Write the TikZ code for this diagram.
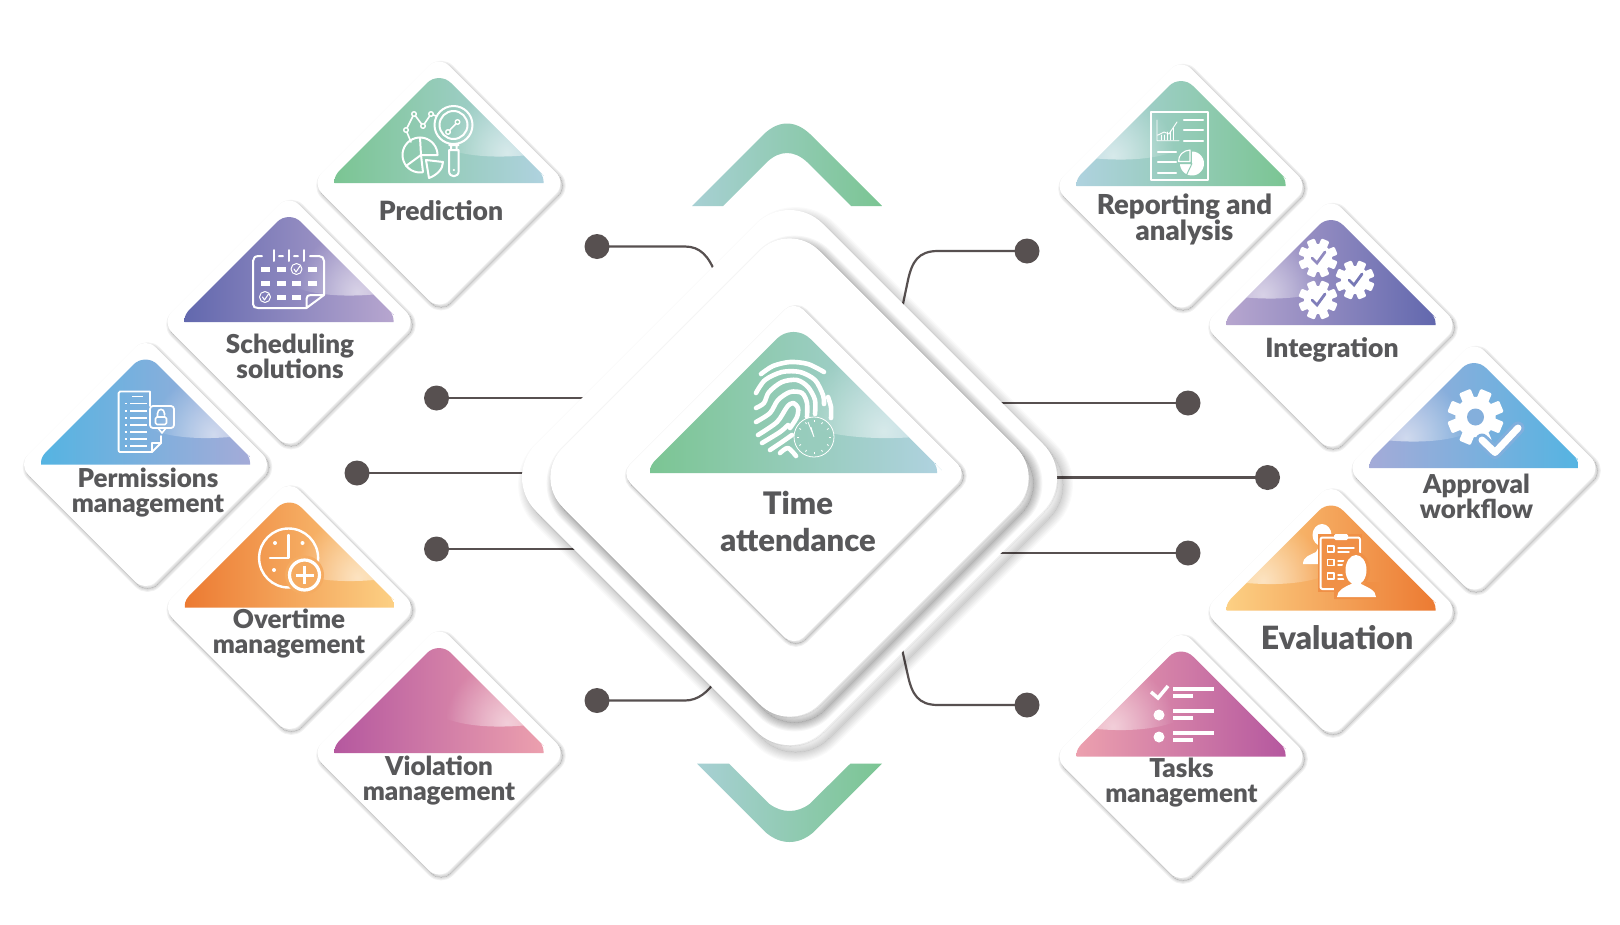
\documentclass[tikz,border=0pt]{standalone}
\usepackage{fontspec}
\usetikzlibrary{fadings,calc}
\setmainfont{Lato}
\newfontfamily\labfont{Lato Black}
\definecolor{grA}{HTML}{7BC593}\definecolor{grB}{HTML}{AFD2DF}
\definecolor{puA}{HTML}{6268AE}\definecolor{puB}{HTML}{B7A6CF}
\definecolor{blA}{HTML}{55B4E2}\definecolor{blB}{HTML}{A4ABD8}
\definecolor{orA}{HTML}{EC7A32}\definecolor{orB}{HTML}{FCD084}
\definecolor{piA}{HTML}{B5589F}\definecolor{piB}{HTML}{ECA0AE}
\definecolor{ink}{HTML}{58585A}\definecolor{dotc}{HTML}{575050}
\tikzfading[name=hlfade,inner color=transparent!45,outer color=transparent!100]
\tikzset{
 x=1pt,y=-1pt,
 cardlabel/.style={font=\labfont\fontsize{26}{25}\selectfont,text=ink,align=center,inner sep=0pt},
 dotnode/.style={circle,fill=dotc,draw=none,minimum size=25pt,inner sep=0pt},
 wire/.style={draw=dotc,line width=2.2pt},
 ic/.style={draw=white,line width=2pt,line cap=round,line join=round},
 icf/.style={fill=white,draw=none},
 ridge/.style={draw=white,line width=4.6pt,line cap=round,line join=round},
}
\newcommand{\dmd}[2]{(-#1/2,-#1/2) [rounded corners=#2] -- (0,-#1) -- (#1,0) -- (0,#1) -- (-#1,0) -- cycle}
% soft shadow: half-diagonal, rounding, x/y offset, widest blur, opacity
\newcommand{\softshadow}[6]{%
 \foreach \w in {0,...,#5}{%
  \draw[black,opacity=#6,line width=\w*2.2pt,line join=round,xshift=#3pt,yshift=-#4pt] \dmd{#1}{#2};}}
\newcommand{\tri}[3]{% half base, sharp height, apex rounding
 (-#1,0) -- (-#1,-2) .. controls (-#1,-6) and (-#1+2,-#2+#1-2) .. (-#1+6,-#2+#1-6) -- (-#1+12,-#2+#1-12) [rounded corners=#3] -- (0,-#2) -- (#1-12,-#2+#1-12) [sharp corners] -- (#1-6,-#2+#1-6) .. controls (#1-2,-#2+#1-2) and (#1,-6) .. (#1,-2) -- (#1,0) -- cycle}
% plate: cx cy colourL colourR dir
\newcommand{\plate}[5]{%
 \begin{scope}[shift={(#1,#2)}]
  \softshadow{127.3}{14}{2}{2.6}{3}{0.055}
  \fill[white] \dmd{127.3}{14};
  \shade[left color=#3,right color=#4] \tri{104.5}{112}{17};
  \begin{scope}
   \clip \tri{104.5}{112}{17};
   \clip (#5*8,-34) .. controls (#5*30,-26) and (#5*60,-25) .. (#5*90,-28) -- (#5*110,-28) -- (#5*110,-115) -- (#5*8,-115) -- cycle;
   \fill[white,path fading=hlfade] (#5*68,-30) circle (62);
  \end{scope}
 \end{scope}}
\newcommand{\gearicon}[4]{% cx cy r inner drawing
 \begin{scope}[shift={(#1,#2)}]
  \foreach \a in {0,45,...,315}{\fill[white,rotate=\a+22.5,rounded corners=1.2pt] (-#3*.22,-#3) rectangle (#3*.22,0);}
  \fill[white] (0,0) circle (#3*.72);
  #4
 \end{scope}}
\begin{document}
\begin{tikzpicture}
\useasboundingbox (0,0) rectangle (1620,924);
\fill[white] (0,0) rectangle (1620,924);
% connectors
\node[dotnode] (d1) at (597,246.5) {};
\node[dotnode] (d2) at (436.5,398) {};
\node[dotnode] (d3) at (357,473) {};
\node[dotnode] (d4) at (436.5,549) {};
\node[dotnode] (d5) at (597,700.5) {};
\node[dotnode] (d6) at (1027,251) {};
\node[dotnode] (d7) at (1188,403) {};
\node[dotnode] (d8) at (1267.5,477.5) {};
\node[dotnode] (d9) at (1188,553) {};
\node[dotnode] (d10) at (1027,705) {};
\coordinate (e1) at (716,275);\coordinate (e2) at (600,398);\coordinate (e3) at (540,473);\coordinate (e4) at (600,549);\coordinate (e5) at (716,680);
\coordinate (e6) at (900,318);\coordinate (e7) at (990,403);\coordinate (e8) at (1040,477.5);\coordinate (e9) at (990,553);\coordinate (e10) at (900,640);
\draw[wire] (d1.center) -- (685,246.5) .. controls (700,246.5) and (709,256) .. (e1);
\draw[wire] (d2.center) -- (e2);
\draw[wire] (d3.center) -- (e3);
\draw[wire] (d4.center) -- (e4);
\draw[wire] (d5.center) -- (685,700.5) .. controls (698,700.5) and (708,692) .. (e5);
\draw[wire] (d6.center) -- (938,251) .. controls (918,251) and (912,262) .. (908,280) -- (e6);
\draw[wire] (d7.center) -- (e7);
\draw[wire] (d8.center) -- (e8);
\draw[wire] (d9.center) -- (e9);
\draw[wire] (d10.center) -- (938,705) .. controls (918,705) and (912,694) .. (908,676) -- (e10);
% chevrons
\shade[left color=grB!85!grA,right color=grA] (692,206) -- (764,134) .. controls (779,120) and (795,120) .. (810,134) -- (882,206) -- (851,206) -- (807,162) .. controls (794,150) and (780,150) .. (767,162) -- (723,206) -- cycle;
\shade[left color=grB!85!grA,right color=grA] (697,763.5) -- (766.5,833) .. controls (781,845) and (798,845) .. (812.5,833) -- (882,763.5) -- (850.5,763.5) -- (809.5,804) .. controls (797,813.3) and (782,813.3) .. (769.5,804) -- (729,763.5) -- cycle;
% central plates
\begin{scope}[shift={(789.5,477.5)}]
 \softshadow{287}{47}{6}{7}{9}{0.021}
 \softshadow{287}{47}{1}{1}{1}{0.02}
 \fill[white] \dmd{287}{47};
 \softshadow{256.5}{42}{5}{6}{8}{0.034}
 \softshadow{256.5}{42}{1}{1}{1}{0.02}
 \fill[white] \dmd{256.5}{42};
\end{scope}
\begin{scope}[shift={(794,473.5)}]
 \softshadow{173}{13}{1.8}{2.4}{3}{0.06}
 \fill[white] \dmd{173}{13};
\end{scope}
\begin{scope}[shift={(793.5,473)}]
 \shade[left color=grA,right color=grB] \tri{143.5}{151}{24};
 \begin{scope}
  \clip \tri{143.5}{151}{24};
  \clip (8,-48) .. controls (40,-36) and (80,-33) .. (122,-36) -- (150,-36) -- (150,-155) -- (8,-155) -- cycle;
  \fill[white,path fading=hlfade] (90,-42) circle (85);
 \end{scope}
\end{scope}
% fingerprint
\draw[ridge] plot[smooth] coordinates {(761,374) (773,366) (790,362) (808,364) (824,372)};
\draw[ridge] plot[smooth] coordinates {(756,393) (765,380) (782,372) (800,372) (815,380) (823,395) (824,404)};
\draw[ridge] plot[smooth] coordinates {(756,408) (764,403) (769,392) (782,382) (797,380) (808,387) (815,400) (815,414)};
\draw[ridge] plot[smooth] coordinates {(756,422) (770,413) (778,400) (790,392) (802,393) (807,403) (807,417)};
\draw[ridge] plot[smooth] coordinates {(758,435) (777,422) (787,407) (793,403) (798,408) (797,417) (790,428)};
\draw[ridge] plot[smooth] coordinates {(762,443) (780,432) (788,425)};
\draw[ridge] plot[smooth] coordinates {(770,450) (782,442) (792,435)};
\draw[ridge] plot[smooth] coordinates {(780,453) (788,448) (796,456)};
\draw[ridge] plot[smooth] coordinates {(828,397) (831,407) (831,418)};
\fill[fill=grA!45!grB,opacity=.9] (814,437) circle (20);
\draw[white,line width=.8pt] (814,437) circle (20);
\foreach \a in {0,30,...,330}{\draw[white,line width=.8pt] ($(814,437)+(\a:15)$) -- ($(814,437)+(\a:17)$);}
\draw[white,line width=.8pt] (814,437) -- (808,422) (814,437) -- (811,427);
% small plates
\plate{439}{183}{grA}{grB}{1}
\plate{289}{322}{puA}{puB}{1}
\plate{145.5}{464.5}{blA}{blB}{1}
\plate{289.3}{607.5}{orA}{orB}{1}
\plate{439}{753}{piA}{piB}{1}
\plate{1181}{186}{grB}{grA}{-1}
\plate{1331}{325}{puB}{puA}{-1}
\plate{1474}{468}{blB}{blA}{-1}
\plate{1331}{610.5}{orB}{orA}{-1}
\plate{1181}{756.5}{piB}{piA}{-1}
% prediction icon
\draw[ic] (453.5,125) circle (19) (453.5,125) circle (14);
\draw[ic] (449,150) -- (449,171) .. controls (449,178) and (458.7,178) .. (458.7,171) -- (458.7,150) -- cycle (449,145) -- (458.7,145) (451,145) -- (451,150) (456.5,145)--(456.5,150);
\fill[white] (453.8,170) circle (1.2);
\draw[ic,line width=1.6pt] (448,132) -- (457.5,122) (406,130) -- (414,114) -- (423,126) -- (431,114) -- (436,116) (406,130) -- (411,142);
\foreach \p in {(448,132),(457.5,122),(406,130),(414,114),(423,126),(431,114)}{\draw[ic,line width=1.4pt,fill=grA!70!grB] \p circle (2.3);}
\draw[ic] plot[smooth,domain=-278:0,samples=30] ({420+17.5*cos(\x)},{155+17.5*sin(\x)});
\draw[ic] (420,137.5) -- (421,155) -- (406,166) (421,155) -- (437.5,155) (421,155) -- (423,172);
\draw[ic] (426,160) -- (443,162) .. controls (443,169) and (437,175) .. (429,178) -- cycle;
% calendar
\draw[ic] (262,256) -- (259,256) .. controls (255,256) and (253,258) .. (253,261) -- (253,304) .. controls (253,307) and (255,308) .. (258,308) -- (306.5,308) -- (324,295) -- (324,261) .. controls (324,258) and (322,256) .. (319,256) -- (310,256) (279,256) -- (283,256) (294,256) -- (298,256) (306.5,308) -- (306.5,299) .. controls (306.5,296) and (308,295) .. (311,295) -- (324,295);
\draw[ic] (273.6,250) -- (273.6,261) (288.6,250) -- (288.6,261) (303.7,250) -- (303.7,261);
\foreach \x/\y in {265/269,281/269,312/269,265/283,281/283,296.5/283,312/283,281/297,296.5/297}{\fill[white] (\x-4.5,\y-2.5) rectangle (\x+4.5,\y+2.5);}
\draw[ic,line width=1pt] (296.5,269) circle (5.5) (265,297) circle (5.5);
\draw[ic,line width=1pt] (294,269) -- (296,272) -- (300,266) (262.5,297) -- (264.5,300) -- (268.5,294);
% permissions doc
\draw[ic,line width=1.8pt] (150,406) -- (150,391.5) -- (120,391.5) .. controls (119,391.5) and (118.6,392) .. (118.6,393) -- (118.6,450) .. controls (118.6,451) and (119,452) .. (120,452) -- (152,452) -- (161,443) -- (161,436);
\draw[ic,line width=1.5pt] (152,452) -- (152,443) -- (161,443);
\foreach \y in {411,418,425,432,439}{\draw[ic,line width=1.6pt,line cap=butt] (124.5,\y) -- (127,\y) (130,\y) -- (147,\y);}
\draw[ic,line width=1.6pt,line cap=butt] (132,396.5) -- (143,396.5) (124.5,403.5) -- (127,403.5) (130,403.5) -- (147,403.5) (124.5,446) -- (127,446) (130,446) -- (147,446);
\draw[ic,line width=1.8pt,rounded corners=3pt] (150,406) rectangle (174,428);
\draw[ic,line width=1.6pt] (158,428) -- (162,433) -- (166,428);
\draw[ic,line width=1.6pt,rounded corners=1.5pt] (155.5,417) rectangle (166.5,424.5);
\draw[ic,line width=1.6pt] (157.5,417) -- (157.5,413.5) .. controls (157.5,408) and (164.5,408) .. (164.5,413.5) -- (164.5,415);
% overtime clock
\draw[ic,line width=2.4pt] (288.6,558) circle (29.5);
\fill[orB!57!orA] (304.5,575) circle (19.5);
\draw[ic,line width=3.2pt] (304.5,575) circle (15);
\draw[ic,line width=3pt,line cap=butt] (304.5,566) -- (304.5,584) (295.5,575) -- (313.5,575);
\draw[ic,line width=2.4pt] (288.6,535) -- (288.6,558) -- (270,558);
\fill[white] (275,543) circle (2) (302.5,543) circle (2) (274,570) circle (2);
% report
\draw[ic] (1151,111.5) rectangle (1208,180);
\draw[ic,line width=2.2pt] (1184,120) -- (1203,120) (1184,130) -- (1203,130) (1184,140.7) -- (1203,140.7) (1158,152) -- (1176,152) (1158,162) -- (1176,162) (1158,172.7) -- (1176,172.7);
\draw[ic,line width=.9pt] (1157,120) -- (1157,140.7) -- (1179,140.7) (1158,135) -- (1164,132) -- (1169,134) -- (1177,122);
\foreach \x/\h in {1161/5,1164/5,1167/8,1170/9,1173/12}{\draw[ic,line width=.8pt] (\x,140) -- (\x,140-\h);}
\fill[white] (1192,163.5) -- plot[smooth,domain=-90:180,samples=30] ({1192+12*cos(\x)},{163.5+12*sin(\x)}) -- cycle;
\draw[grA!55!grB,line width=1pt] (1192,163.5) -- (1186,176) (1180,163.5) -- (1192,163.5);
\draw[ic,line width=1.1pt] (1178.5,161.5) .. controls (1178.5,155) and (1183,150.5) .. (1190,150) -- (1190,161.5) -- cycle;
% gears
\gearicon{1318}{258}{19.5}{\draw[puA!45!puB,line width=2.8pt,line cap=round] (-6,0) -- (-1,5) -- (7,-6);}
\gearicon{1355}{280}{19.5}{\draw[puA!75!puB,line width=2.8pt,line cap=round] (-6,0) -- (-1,5) -- (7,-6);}
\gearicon{1318}{300}{19.5}{\draw[puA!65!puB,line width=2.8pt,line cap=round] (-6,0) -- (-1,5) -- (7,-6);}
% approval
\gearicon{1475.5}{417}{28}{\fill[blA!40!blB] (0,0) circle (8.5);}
\draw[blA!45!blB,line width=13pt,line cap=round,line join=round] (1482,440) -- (1495,452.5) -- (1518,428);
\draw[white,line width=7pt,line cap=round,line join=round] (1482,440) -- (1495,452.5) -- (1518,428);
% evaluation
\fill[white] (1322,535) ellipse (9.5 and 11) (1303,564) .. controls (1303,556) and (1311,555) .. (1316,552) -- (1320,545) -- (1327,545) -- (1328,564) -- cycle;
\fill[orB!25!orA] (1318,534) rectangle (1362,592);
\draw[ic,rounded corners=2pt] (1320.5,537.5) rectangle (1360,589);
\fill[white,rounded corners=1.5pt] (1334,534) rectangle (1348,540);
\draw[ic,line width=1.6pt] (1327.5,546) rectangle (1334,552) (1327.5,559.5) rectangle (1334,565.5) (1327.5,573) rectangle (1334,579);
\draw[ic,line width=1.4pt] (1338,548) -- (1354,548) (1338,552) -- (1349,552) (1338,561) -- (1348,561) (1338,565) -- (1347,565) (1338,575) -- (1345,575) (1338,579) -- (1345,579);
\fill[orB!25!orA] (1356,570) ellipse (14 and 18) (1334,582) rectangle (1379,599);
\fill[white] (1356,570) ellipse (10.5 and 15);
\fill[white] (1337,597) .. controls (1337,590) and (1345,587) .. (1351,584) -- (1361,584) .. controls (1367,587) and (1376,590) .. (1376,597) -- cycle;
% tasks
\draw[ic,line width=3.5pt,line cap=butt,line join=miter] (1151,692) -- (1158,698) -- (1168,686);
\fill[white] (1159,715) circle (5.5) (1159,737) circle (5.5);
\foreach \y in {689,711,733}{\fill[white] (1173,\y-2) rectangle (1214,\y+2);\fill[white] (1173,\y+5) rectangle (1193,\y+9);}
% labels
\node[cardlabel,font=\labfont\fontsize{31}{37}\selectfont] (tc) at (798,521.5) {Time\\attendance};
\node[cardlabel,font=\labfont\fontsize{26.5}{25}\selectfont] (n1) at (441,210.5) {Prediction};
\node[cardlabel] (n2) at (290,356) {Scheduling\\solutions};
\node[cardlabel] (n3) at (148,492.5) {Permissions\\management};
\node[cardlabel] (n4) at (289,633.5) {Overtime\\management};
\node[cardlabel] (n5) at (439,780.5) {Violation\\management};
\node[cardlabel,font=\labfont\fontsize{27.5}{26}\selectfont] (n6) at (1184.5,219) {Reporting and\\analysis};
\node[cardlabel,font=\labfont\fontsize{26.5}{25}\selectfont] (n7) at (1332,350) {Integration};
\node[cardlabel] (n8) at (1476.5,496.5) {Approval\\workflow};
\node[cardlabel,font=\labfont\fontsize{32}{32}\selectfont] (n9) at (1337,638) {Evaluation};
\node[cardlabel] (n10) at (1181.5,783) {Tasks\\management};
\end{tikzpicture}
\end{document}
